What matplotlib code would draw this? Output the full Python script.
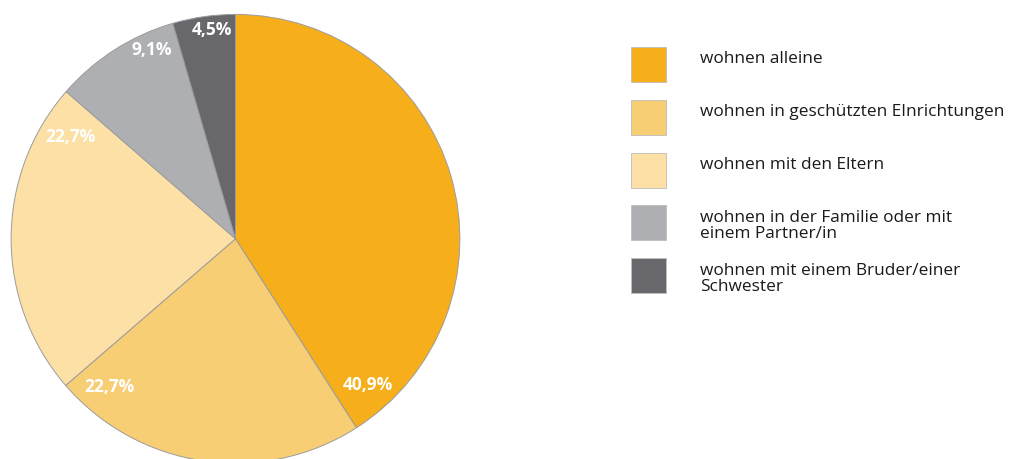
import numpy as np
import matplotlib
matplotlib.use('Agg')
import matplotlib.pyplot as plt
from matplotlib.patches import Rectangle

# data
categories = ['wohnen alleine',
              'wohnen in geschützten EInrichtungen',
              'wohnen mit den Eltern',
              'wohnen in der Familie oder mit\neinem Partner/in',
              'wohnen mit einem Bruder/einer\nSchwester']
shares = [40.9, 22.7, 22.7, 9.1, 4.5]
share_labels = ['40,9%', '22,7%', '22,7%', '9,1%', '4,5%']
colors = ['#F6AE1A', '#F8CE75', '#FCE0A5', '#AEAFB2', '#68676C']

# where the value labels sit: degrees back from each slice end, radius (fraction of R)
label_back = [9.5, 8.7, 9.2, 7.7, 6.4]
label_rad = [0.88, 0.867, 0.864, 0.92, 0.936]

W, H, dpi = 1009, 459, 100
fig = plt.figure(figsize=(W / dpi, H / dpi), dpi=dpi)

# pie axes: centre (235.5, 238.8) px, radius 225.5 px
cx, cy, R = 235.5, 238.8, 225.5
ax = fig.add_axes([(cx - R) / W, (H - cy - R) / H, 2 * R / W, 2 * R / H])
ax.pie(shares, colors=colors, startangle=90, counterclock=False, radius=1,
       wedgeprops=dict(edgecolor='#9c9c9c', linewidth=0.7))
ax.set_xlim(-1.005, 1.005)
ax.set_ylim(-1.005, 1.005)
ax.set_aspect('auto')

ends = 90 - 360 * np.cumsum(shares) / np.sum(shares)
for lab, end, back, r in zip(share_labels, ends, label_back, label_rad):
    a = np.deg2rad(end + back)
    ax.text(r * np.cos(a), r * np.sin(a), lab, color='white', fontsize=12.5,
            fontweight='bold', family='Open Sans', ha='center', va='center')

# legend in pixel coords
lax = fig.add_axes([0, 0, 1, 1])
lax.set_xlim(0, W)
lax.set_ylim(H, 0)
lax.axis('off')
for i, (cat, col) in enumerate(zip(categories, colors)):
    top = 46.7 + 52.9 * i
    lax.add_patch(Rectangle((630.5, top), 35, 35, facecolor=col,
                            edgecolor='#bdbdbd', linewidth=0.6))
    for j, line in enumerate(cat.split('\n')):
        lax.text(700, top + 16.5 + 16.5 * j, line, fontsize=12.4,
                 family='Open Sans', color='#1a1a1a', ha='left', va='baseline')

fig.savefig('out.png', dpi=dpi)
